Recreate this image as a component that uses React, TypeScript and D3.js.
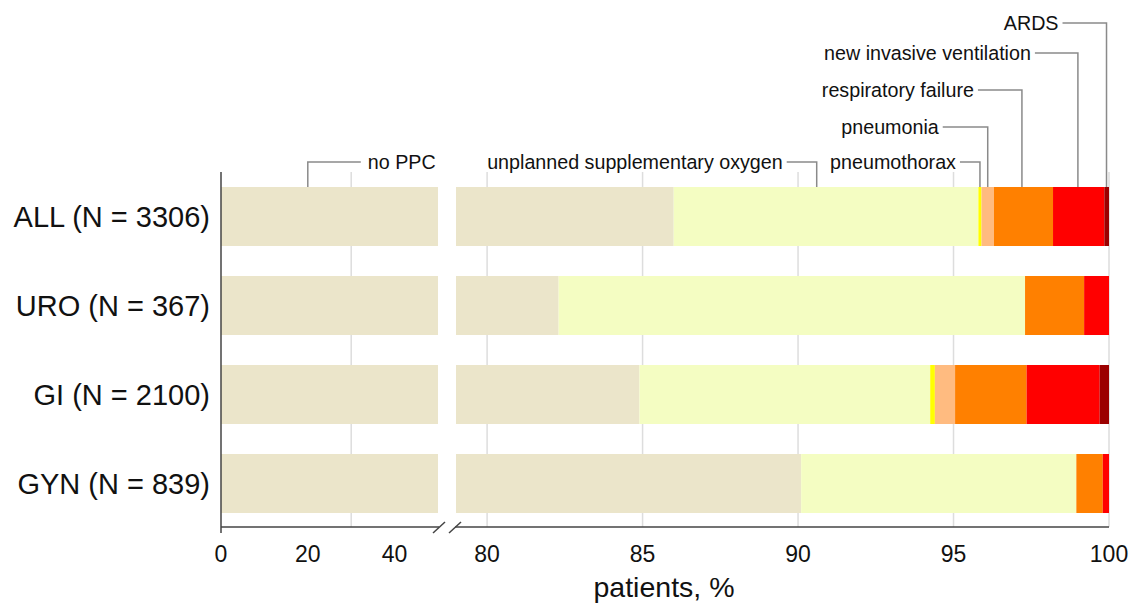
import React from 'react';
import * as d3 from 'd3';

// groups shown as rows, top to bottom
const categories = ['ALL (N = 3306)', 'URO (N = 367)', 'GI (N = 2100)', 'GYN (N = 839)'];

// stacked outcome keys, in drawing order
const outcomes = [
  'no PPC',
  'unplanned supplementary oxygen',
  'pneumothorax',
  'pneumonia',
  'respiratory failure',
  'new invasive ventilation',
  'ARDS',
];

// share of patients (%) per outcome, one array per outcome, rows follow `categories`
const noPPC = [86.0, 82.3, 84.9, 90.1];
const suppOxygen = [9.8, 15.0, 9.35, 8.85];
const pneumothorax = [0.1, 0, 0.15, 0];
const pneumonia = [0.4, 0, 0.65, 0];
const respFailure = [1.9, 1.9, 2.3, 0.85];
const invasiveVent = [1.65, 0.8, 2.35, 0.2];
const ards = [0.15, 0, 0.3, 0];

const outcomeColors = ['#ebe5ca', '#f4fdc2', '#ffff00', '#ffbb80', '#ff8000', '#ff0000', '#9b0000'];

// broken x axis: two domains
const leftDomain = [0, 50];
const rightDomain = [79, 100];
const leftTicks = [0, 20, 40];
const rightTicks = [80, 85, 90, 95, 100];
const leftGrid = [30];
const rightGrid = [80, 85, 90, 95, 100];

// where each callout points (% value on the x axis, taken from the ALL bar)
const calloutAt = [20, 90.6, 95.85, 96.1, 97.2, 99.0, 99.92];

const W = 1132;
const H = 603;
const plotTop = 172;
const plotBottom = 527;
const barTop = 187;

// callout layout
const calloutLevel = [0, 0, 0, 1, 2, 3, 4];
const levelY = [162, 127, 90, 53, 23];
const leaderLen = [53, 30, 20, 45, 44, 43, 44];

const font = '"Liberation Sans", Arial, Helvetica, sans-serif';

export default function App() {
  const xl = d3.scaleLinear().domain(leftDomain).range([221, 438]);
  const xr = d3.scaleLinear().domain(rightDomain).range([456, 1109]);
  const xAny = (v: number) => (v <= leftDomain[1] ? xl(v) : xr(v));

  const y = d3
    .scaleBand()
    .domain(categories)
    .range([plotTop, plotBottom + 1])
    .paddingInner(0.337)
    .paddingOuter(0.1685);

  const columns = [noPPC, suppOxygen, pneumothorax, pneumonia, respFailure, invasiveVent, ards];
  const rows = categories.map((c, i) => {
    const r: any = { cat: c };
    outcomes.forEach((o, j) => (r[o] = columns[j][i]));
    return r;
  });
  const stacked = d3.stack().keys(outcomes)(rows);

  const rects: any[] = [];
  stacked.forEach((layer, j) => {
    layer.forEach((d, i) => {
      const [v0, v1] = d;
      if (v1 - v0 <= 0) return;
      const yy = y(categories[i]) as number;
      if (v0 < leftDomain[1]) {
        const a = Math.max(v0, leftDomain[0]);
        const b = Math.min(v1, leftDomain[1]);
        rects.push({ key: `l${j}-${i}`, x: xl(a), w: xl(b) - xl(a), y: yy, fill: outcomeColors[j] });
      }
      if (v1 > rightDomain[0]) {
        const a = Math.max(v0, rightDomain[0]);
        rects.push({ key: `r${j}-${i}`, x: xr(a), w: xr(v1) - xr(a), y: yy, fill: outcomeColors[j] });
      }
    });
  });

  const gridColor = '#dddddd';
  const axisColor = '#444444';
  const leaderColor = '#8a8a8a';
  const breakL = xl(leftDomain[1]) + 1;
  const breakR = xr(rightDomain[0]) - 1;

  return (
    <svg
      width={W}
      height={H}
      style={{ position: 'absolute', left: 0, top: 0, background: '#fff' }}
      fontFamily={font}
    >
      {/* grid lines */}
      {leftGrid.map((g) => (
        <line key={'gl' + g} x1={xl(g)} x2={xl(g)} y1={plotTop} y2={plotBottom} stroke={gridColor} strokeWidth={1.5} />
      ))}
      {rightGrid.map((g) => (
        <line key={'gr' + g} x1={xr(g)} x2={xr(g)} y1={plotTop} y2={plotBottom} stroke={gridColor} strokeWidth={1.5} />
      ))}

      {/* bars */}
      {rects.map((r) => (
        <rect key={r.key} x={r.x} y={r.y} width={r.w} height={y.bandwidth()} fill={r.fill} />
      ))}

      {/* y axis */}
      <line x1={xl(0)} x2={xl(0)} y1={plotTop} y2={plotBottom + 6} stroke={axisColor} strokeWidth={1.5} />
      {categories.map((c) => (
        <text
          key={c}
          x={210}
          y={(y(c) as number) + y.bandwidth() / 2}
          dy="0.36em"
          textAnchor="end"
          fontSize={29}
          fill="#111"
        >
          {c}
        </text>
      ))}

      {/* x axis with break */}
      <line x1={xl(0)} x2={breakL} y1={plotBottom} y2={plotBottom} stroke={axisColor} strokeWidth={1.5} />
      <line x1={breakR} x2={xr(100)} y1={plotBottom} y2={plotBottom} stroke={axisColor} strokeWidth={1.5} />
      {[breakL, breakR].map((bx, i) => (
        <line key={'br' + i} x1={bx - 6} x2={bx + 6} y1={plotBottom + 6} y2={plotBottom - 5} stroke={axisColor} strokeWidth={1.5} />
      ))}
      {leftTicks.map((t) => (
        <text key={'tl' + t} x={xl(t)} y={562} textAnchor="middle" fontSize={23} fill="#111">
          {t}
        </text>
      ))}
      {rightTicks.map((t) => (
        <text key={'tr' + t} x={xr(t)} y={562} textAnchor="middle" fontSize={23} fill="#111">
          {t}
        </text>
      ))}
      <text x={664} y={597} textAnchor="middle" fontSize={28.5} fill="#111">
        patients, %
      </text>

      {/* callouts */}
      {outcomes.map((o, i) => {
        const ax = xAny(calloutAt[i]);
        const ly = levelY[calloutLevel[i]];
        const toRight = i === 0;
        const ex = toRight ? ax + leaderLen[i] : ax - leaderLen[i];
        return (
          <g key={'c' + i}>
            <polyline
              points={`${ex},${ly} ${ax},${ly} ${ax},${barTop}`}
              fill="none"
              stroke={leaderColor}
              strokeWidth={1.5}
            />
            <text
              x={toRight ? ex + 7 : ex - 4}
              y={ly}
              dy="0.35em"
              textAnchor={toRight ? 'start' : 'end'}
              fontSize={19.7}
              fill="#111"
            >
              {o}
            </text>
          </g>
        );
      })}
    </svg>
  );
}
